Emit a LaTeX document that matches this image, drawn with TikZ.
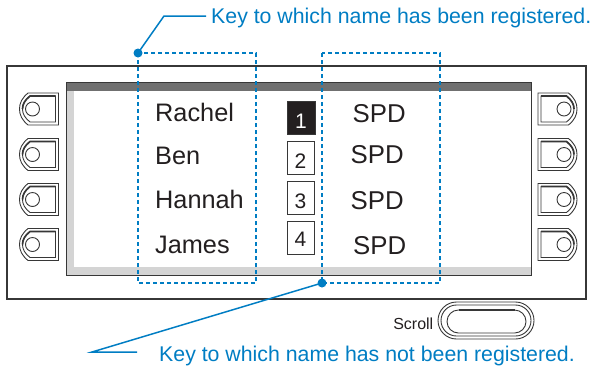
\documentclass[tikz,border=0pt]{standalone}
\usepackage{fontspec}
\setmainfont{Liberation Sans}
\definecolor{keyblue}{RGB}{0,125,195}
\definecolor{bandgray}{RGB}{112,112,112}
\definecolor{stripgray}{RGB}{212,212,212}
\definecolor{linegray}{RGB}{55,55,55}
\definecolor{inkblack}{RGB}{35,31,32}
\tikzset{
  panel/.style={draw=linegray, line width=1.1pt},
  btnline/.style={draw=linegray, line width=0.9pt},
  keybox/.style={draw=keyblue, line width=2pt, dash pattern=on 4.2pt off 2.8pt},
  leader/.style={draw=keyblue, line width=1.5pt},
  keytext/.style={text=keyblue, inner sep=0pt, font=\fontsize{21.3}{24}\selectfont},
  nametext/.style={text=inkblack, inner sep=0pt, anchor=base west, font=\fontsize{25.3}{28}\selectfont},
  spdtext/.style={text=inkblack, inner sep=0pt, anchor=base west, font=\fontsize{25.8}{28}\selectfont},
  numbox/.style={draw=linegray, line width=1pt, minimum width=27pt, minimum height=33pt, inner sep=0pt},
  digit/.style={inner sep=0pt, anchor=base, font=\fontsize{21}{24}\selectfont},
  sidekey/.pic={
    \draw[btnline] (-11,-16) -- (19.5,-16) -- (19.5,16) -- (-11,16)
      .. controls (-17,11) and (-19.5,6) .. (-19.5,0)
      .. controls (-19.5,-6) and (-17,-11) .. (-11,-16) -- cycle;
    \draw[btnline] (-9,-13) -- (16.5,-13) -- (16.5,13) -- (-9,13)
      .. controls (-14,9) and (-16.5,5) .. (-16.5,0)
      .. controls (-16.5,-5) and (-14,-9) .. (-9,-13) -- cycle;
    \draw[draw=linegray, line width=1.7pt] (16.5,-13) -- (-9,-13)
      .. controls (-14,-9) and (-16.5,-5) .. (-16.5,0);
    \draw[btnline] (-6.5,0) circle (7);
  }
}
\begin{document}
\begin{tikzpicture}[x=1pt,y=-1pt]
\useasboundingbox (0,0) rectangle (593,368);
% panel
\draw[panel] (7,66) rectangle (586,299);
% screen
\fill[stripgray] (66,82) rectangle (74,275);
\fill[stripgray] (66,266.5) rectangle (531,275);
\fill[bandgray] (66,82) rectangle (531,90.5);
\draw[draw=linegray, line width=0.9pt] (66,82) rectangle (531,275);
% side keys
\foreach \yy in {109,154.5,199.5,244.5} {
  \path (39,\yy) pic {sidekey};
  \path (557.5,\yy) pic[xscale=-1] {sidekey};
}
% scroll key
\draw[btnline, rounded corners=18.5pt] (438,302) rectangle (534,339);
\draw[btnline, rounded corners=15.5pt] (441,305) rectangle (531,336);
\draw[btnline, rounded corners=11.5pt] (447,310) rectangle (526,333);
\draw[draw=linegray, line width=1.6pt] (458.5,310) -- (514.5,310);
\node[text=inkblack, inner sep=0pt, anchor=base east, font=\fontsize{16}{19}\selectfont] (scroll) at (433.5,329) {Scroll};
% names
\node[nametext] (rachel) at (155,121) {Rachel};
\node[nametext] (ben) at (155,164) {Ben};
\node[nametext] (hannah) at (155,208) {Hannah};
\node[nametext] (james) at (155,253) {James};
% number boxes
\node[numbox, fill=inkblack, minimum width=28pt] (n1) at (301,117.5) {};
\node[numbox] (n2) at (300.5,157.5) {};
\node[numbox] (n3) at (300.5,198) {};
\node[numbox] (n4) at (300.5,237.5) {};
\node[digit, text=white] (d1) at (301,128) {1};
\node[digit, text=inkblack] (d2) at (300.5,168) {2};
\node[digit, text=inkblack] (d3) at (300.5,208) {3};
\node[digit, text=inkblack] (d4) at (300.5,246) {4};
% SPD
\node[spdtext] (s1) at (352.5,122) {SPD};
\node[spdtext] (s2) at (350.5,163) {SPD};
\node[spdtext] (s3) at (350.5,209) {SPD};
\node[spdtext] (s4) at (353,254) {SPD};
% key boxes
\draw[keybox] (138,53) rectangle (256,283);
\draw[keybox] (322,53) rectangle (440,283);
% leaders and texts
\coordinate (dtop) at (138,53);
\coordinate (btop) at (164,16);
\coordinate (etop) at (206,16);
\node[keytext, anchor=base west] (ktop) at (211,23) {Key to which name has been registered.};
\draw[leader] (dtop) -- (btop) -- (etop);
\fill[keyblue] (dtop) circle (4.5);
\coordinate (dbot) at (322,283);
\coordinate (bbot) at (92,352);
\coordinate (ebot) at (137,352);
\node[keytext, anchor=base west] (kbot) at (159,361) {Key to which name has not been registered.};
\draw[leader] (dbot) -- (bbot) -- (ebot);
\fill[keyblue] (dbot) circle (4.5);
\end{tikzpicture}
\end{document}
